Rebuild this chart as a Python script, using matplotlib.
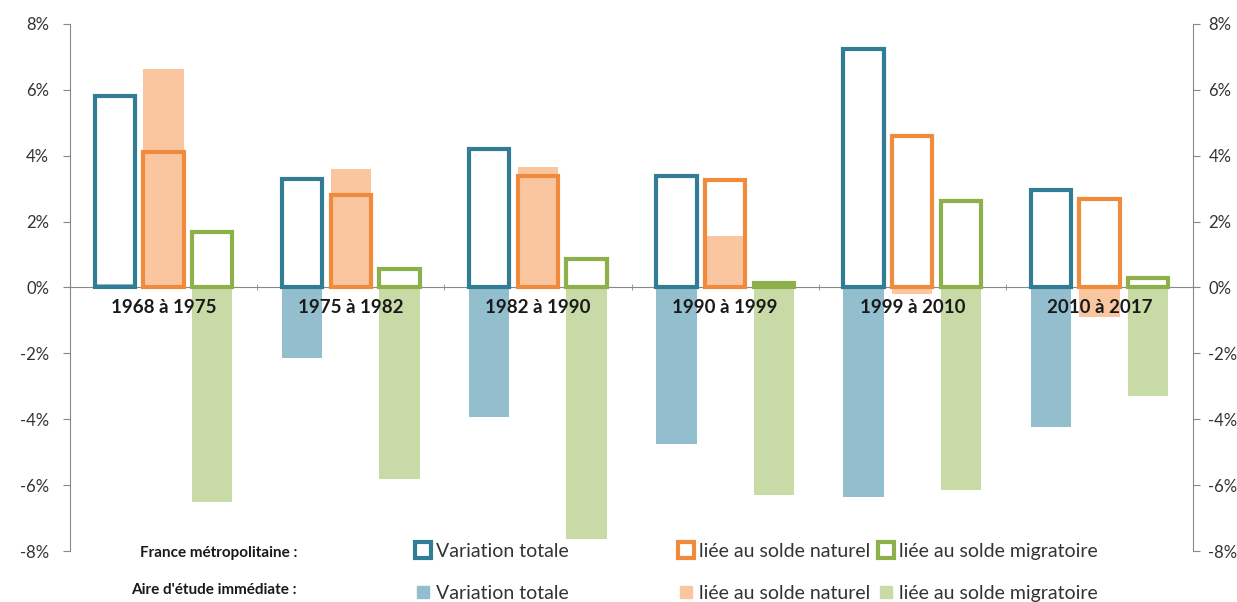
import numpy as np
import matplotlib
matplotlib.use("Agg")
import matplotlib.pyplot as plt
from matplotlib.lines import Line2D
from matplotlib.ticker import FuncFormatter

plt.rcParams['font.family'] = ['Lato', 'DejaVu Sans']

# Data (% variation per period)
periods = ['1968 à 1975', '1975 à 1982', '1982 à 1990', '1990 à 1999', '1999 à 2010', '2010 à 2017']
france_totale = [5.8, 3.3, 4.2, 3.4, 7.25, 2.97]
france_naturel = [4.1, 2.8, 3.4, 3.27, 4.6, 2.7]
france_migratoire = [1.67, 0.55, 0.88, 0.15, 2.64, 0.3]
aire_totale = [0.1, -2.15, -3.94, -4.76, -6.36, -4.24]
aire_naturel = [6.64, 3.6, 3.67, 1.55, -0.2, -0.9]
aire_migratoire = [-6.52, -5.8, -7.64, -6.3, -6.15, -3.3]

dark = ['#317D96', '#F08A3C', '#8DB04A']
light = ['#93BECE', '#F9C6A0', '#C8DBA6']
labels = ['Variation totale', 'liée au solde naturel', 'liée au solde migratoire']

fig = plt.figure(figsize=(12.37, 6.02), dpi=100)
ax = fig.add_axes([70 / 1237, 1 - 551 / 602, (1193 - 70) / 1237, (551 - 24) / 602])

x = np.arange(len(periods))
offsets = [-0.26, 0, 0.26]
w = 0.215

aire = [aire_totale, aire_naturel, aire_migratoire]
france = [france_totale, france_naturel, france_migratoire]
for i in range(3):
    ax.bar(x + offsets[i], aire[i], w, color=light[i], zorder=1)
for i in range(3):
    ax.bar(x + offsets[i], france[i], w, facecolor='none', edgecolor=dark[i],
           linewidth=3, zorder=3)

ax.set_xlim(-0.5, 5.5)
ax.set_ylim(-8, 8)
pct = FuncFormatter(lambda v, p: '%d%%' % v)
ax.set_yticks(np.arange(-8, 9, 2))
ax.yaxis.set_major_formatter(pct)
ax.tick_params(axis='y', length=5, color='#888888', labelsize=12, labelcolor='#333333', pad=10)

ax.spines['top'].set_visible(False)
ax.spines['right'].set_visible(False)
ax.spines['left'].set_color('#888888')
ax.spines['bottom'].set_position(('data', 0))
ax.spines['bottom'].set_color('#888888')
ax.spines['bottom'].set_zorder(2)

ax.set_xticks(x)
ax.set_xticklabels(periods, fontsize=13.5, fontweight='bold', color='#1a1a1a')
ax.tick_params(axis='x', which='major', length=0, pad=8)
ax.set_xticks(np.arange(-0.5, 5.6, 1), minor=True)
ax.tick_params(axis='x', which='minor', length=5, color='#888888', direction='inout')

ax2 = ax.twinx()
ax2.set_ylim(-8, 8)
ax2.set_yticks(np.arange(-8, 9, 2))
ax2.yaxis.set_major_formatter(pct)
ax2.tick_params(axis='y', length=5, color='#888888', labelsize=12, labelcolor='#333333', pad=6)
for s in ['top', 'left', 'bottom']:
    ax2.spines[s].set_visible(False)
ax2.spines['right'].set_color('#888888')

# Legend: one column per component, two rows (France / Aire)
col_x = [415 / 1237, 678 / 1237, 878 / 1237]
for i in range(3):
    h1 = Line2D([], [], linestyle='none', marker='s', markersize=12,
                markerfacecolor='white', markeredgecolor=dark[i], markeredgewidth=3)
    h2 = Line2D([], [], linestyle='none', marker='s', markersize=9,
                markerfacecolor=light[i], markeredgecolor=light[i])
    fig.legend([h1, h2], [labels[i], labels[i]], loc='upper left',
               bbox_to_anchor=(col_x[i], 1 - 543 / 602), frameon=False,
               fontsize=14, handlelength=0.8, handletextpad=0.3,
               labelspacing=1.3, borderpad=0, borderaxespad=0,
               labelcolor='#333333')

fig.text(297 / 1237, 1 - 553 / 602, 'France métropolitaine :', ha='right', va='center',
         fontsize=11, fontweight='bold', color='#1a1a1a')
fig.text(297 / 1237, 1 - 590 / 602, "Aire d'étude immédiate :", ha='right', va='center',
         fontsize=11, fontweight='bold', color='#1a1a1a')

fig.savefig('out.png', dpi=100)
